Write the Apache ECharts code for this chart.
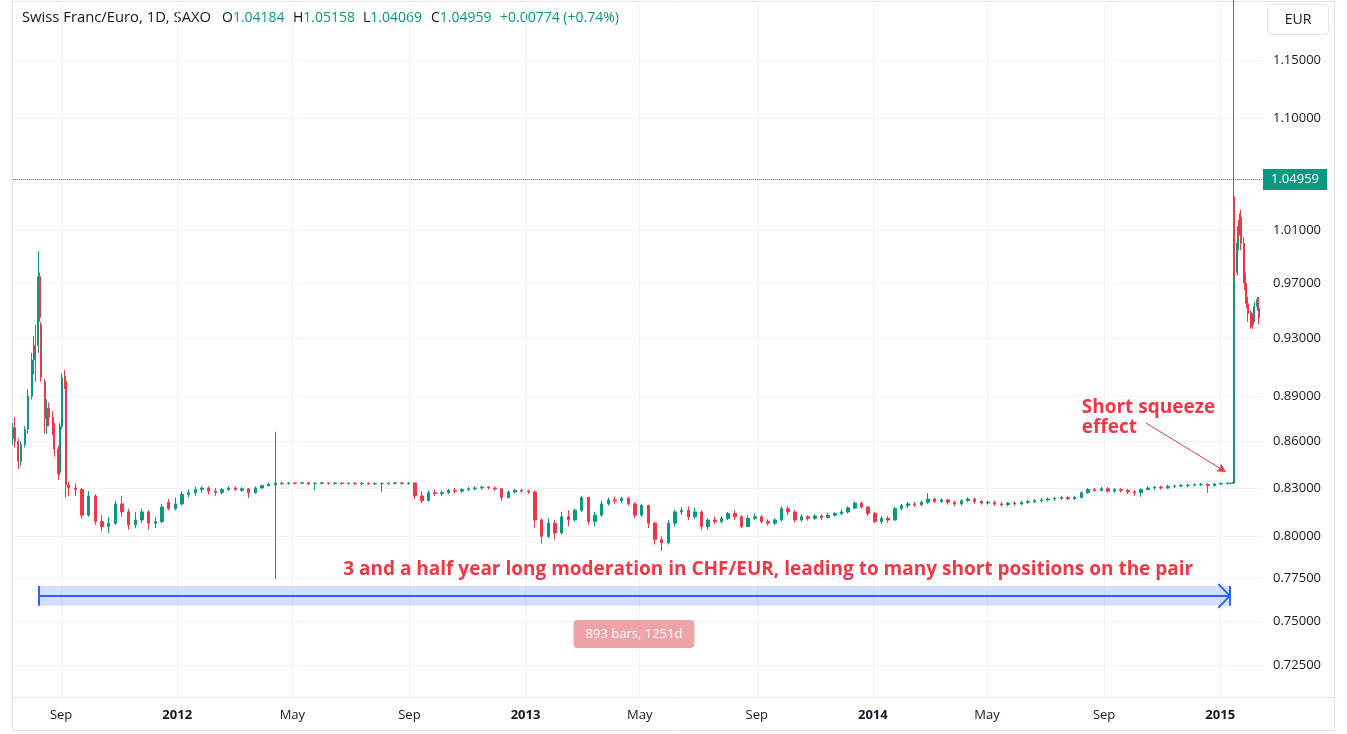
<!DOCTYPE html>
<html>
<head>
<meta charset="utf-8">
<title>Swiss Franc/Euro, 1D, SAXO</title>
<script src="https://cdn.jsdelivr.net/npm/echarts@6.0.0/dist/echarts.min.js"></script>
<style>
  html, body { margin: 0; padding: 0; background: #ffffff; }
  #chart { width: 1347px; height: 734px; }
</style>
</head>
<body>
<div id="chart"></div>
<script>
// prices are stored x 10000, rows are [open, close, low, high]

// summer 2011, one candle every couple of days
var dates2011 = ['2011-07-12', '2011-07-14', '2011-07-18', '2011-07-21', '2011-07-25', '2011-07-28',
  '2011-08-01', '2011-08-03', '2011-08-05', '2011-08-08', '2011-08-10', '2011-08-11', '2011-08-15',
  '2011-08-17', '2011-08-19', '2011-08-23', '2011-08-25', '2011-08-29', '2011-08-31', '2011-09-02',
  '2011-09-05', '2011-09-06'];
var ohlc2011 = [
  [8620, 8690, 8580, 8720], [8690, 8600, 8560, 8760], [8600, 8470, 8420, 8620], [8470, 8580, 8440, 8600],
  [8580, 8680, 8560, 8700], [8680, 8900, 8650, 8950], [8900, 9150, 8880, 9200], [9150, 9250, 9050, 9320],
  [9250, 9200, 9000, 9400], [9250, 9750, 9200, 9940], [9750, 9450, 9420, 9780], [9400, 9030, 9000, 9420],
  [9000, 8750, 8650, 9020], [8700, 8820, 8650, 8880], [8820, 8760, 8700, 8860], [8760, 8700, 8640, 8800],
  [8700, 8550, 8500, 8720], [8550, 8390, 8350, 8570], [8400, 8700, 8380, 8720], [8700, 9030, 8680, 9060],
  [9030, 9000, 8950, 9080], [9000, 8320, 8240, 9040]
];

// weekly candles after the floor, one row per Friday from the start date
var weekStart2011 = '2011-09-09';
var weekly2011 = [
  [8320, 8300, 8250, 8340], [8300, 8290, 8250, 8330], [8290, 8130, 8110, 8300], [8130, 8250, 8120, 8280],
  [8250, 8090, 8070, 8260], [8090, 8060, 8030, 8130], [8060, 8080, 8020, 8120], [8080, 8200, 8070, 8220],
  [8200, 8150, 8120, 8250], [8150, 8070, 8040, 8170], [8070, 8100, 8050, 8150], [8100, 8150, 8080, 8170],
  [8150, 8080, 8040, 8160], [8080, 8090, 8050, 8120], [8090, 8180, 8080, 8200], [8210, 8170, 8160, 8230],
  [8170, 8200, 8160, 8240]
];
var weekStart2012 = '2012-01-06';
var weekly2012 = [
  [8200, 8260, 8190, 8280], [8260, 8270, 8240, 8290], [8270, 8290, 8250, 8310], [8290, 8300, 8270, 8310],
  [8300, 8280, 8260, 8310], [8280, 8270, 8250, 8300], [8270, 8290, 8260, 8300], [8290, 8300, 8280, 8310],
  [8300, 8290, 8280, 8310], [8285, 8295, 8275, 8305], [8295, 8270, 8237, 8300], [8270, 8300, 8265, 8310],
  [8300, 8315, 8295, 8320], [8315, 8325, 8310, 8335], [8320, 8330, 7743, 8663], [8330, 8328, 8320, 8340],
  [8328, 8332, 8320, 8338], [8332, 8330, 8322, 8337], [8330, 8333, 8324, 8339], [8333, 8328, 8318, 8338],
  [8328, 8330, 8287, 8336], [8330, 8332, 8322, 8338], [8332, 8329, 8320, 8336], [8329, 8331, 8322, 8337],
  [8331, 8328, 8320, 8336], [8328, 8330, 8321, 8335], [8330, 8327, 8318, 8334], [8327, 8330, 8320, 8336],
  [8330, 8326, 8318, 8335], [8326, 8329, 8318, 8334], [8329, 8327, 8275, 8335], [8327, 8330, 8320, 8336],
  [8330, 8332, 8322, 8338], [8332, 8329, 8320, 8336], [8329, 8331, 8320, 8337], [8331, 8250, 8230, 8335],
  [8250, 8220, 8205, 8280], [8220, 8270, 8215, 8285], [8270, 8265, 8250, 8290], [8265, 8270, 8250, 8285],
  [8270, 8285, 8260, 8295], [8285, 8280, 8265, 8300], [8280, 8290, 8270, 8300], [8290, 8295, 8280, 8305],
  [8295, 8300, 8285, 8310], [8300, 8305, 8290, 8315], [8305, 8300, 8290, 8312], [8300, 8295, 8280, 8308],
  [8295, 8240, 8220, 8300], [8240, 8275, 8235, 8285], [8275, 8285, 8265, 8295], [8285, 8280, 8270, 8295]
];
var weekStart2013 = '2013-01-04';
var weekly2013 = [
  [8280, 8275, 8262, 8290], [8275, 8100, 8050, 8285], [8100, 8000, 7955, 8110], [8000, 8080, 7990, 8110],
  [8080, 8020, 7980, 8100], [8020, 8120, 8010, 8150], [8120, 8100, 8060, 8160], [8100, 8160, 8090, 8170],
  [8160, 8240, 8150, 8250], [8240, 8090, 8070, 8245], [8090, 8130, 8060, 8150], [8130, 8200, 8120, 8220],
  [8200, 8225, 8190, 8240], [8225, 8220, 8200, 8245], [8220, 8235, 8205, 8245], [8235, 8200, 8190, 8245],
  [8200, 8130, 8110, 8210], [8130, 8190, 8120, 8200], [8190, 8080, 8050, 8195], [8080, 7980, 7950, 8090],
  [7980, 7960, 7911, 8000], [7960, 8080, 7950, 8100], [8080, 8150, 8060, 8165], [8150, 8160, 8130, 8180],
  [8160, 8120, 8100, 8185], [8120, 8150, 8105, 8175], [8150, 8060, 8040, 8160], [8060, 8100, 8040, 8110],
  [8100, 8090, 8075, 8120], [8090, 8110, 8080, 8125], [8110, 8140, 8100, 8150], [8140, 8120, 8100, 8160],
  [8120, 8060, 8050, 8130], [8060, 8110, 8055, 8130], [8110, 8120, 8100, 8140], [8120, 8090, 8080, 8130],
  [8090, 8080, 8065, 8105], [8080, 8100, 8070, 8110], [8100, 8170, 8090, 8185], [8170, 8150, 8130, 8185],
  [8150, 8100, 8085, 8160], [8100, 8120, 8090, 8135], [8120, 8110, 8095, 8130], [8110, 8125, 8100, 8135],
  [8125, 8115, 8100, 8135], [8115, 8130, 8110, 8145], [8130, 8140, 8120, 8150], [8140, 8150, 8130, 8165],
  [8150, 8175, 8140, 8185], [8175, 8205, 8165, 8215], [8205, 8180, 8170, 8215], [8180, 8140, 8125, 8185]
];
var weekStart2014 = '2014-01-03';
var weekly2014 = [
  [8140, 8090, 8080, 8150], [8090, 8110, 8075, 8125], [8110, 8100, 8082, 8125], [8100, 8170, 8095, 8180],
  [8170, 8190, 8160, 8200], [8190, 8200, 8175, 8212], [8200, 8195, 8180, 8212], [8195, 8210, 8185, 8220],
  [8210, 8230, 8200, 8268], [8230, 8215, 8205, 8240], [8215, 8225, 8205, 8235], [8225, 8210, 8195, 8232],
  [8210, 8200, 8185, 8220], [8200, 8220, 8190, 8230], [8220, 8230, 8210, 8240], [8230, 8215, 8200, 8238],
  [8215, 8205, 8195, 8225], [8205, 8210, 8195, 8220], [8210, 8200, 8188, 8220], [8200, 8195, 8185, 8210],
  [8195, 8205, 8185, 8212], [8205, 8200, 8190, 8215], [8200, 8210, 8192, 8220], [8210, 8215, 8200, 8225],
  [8215, 8220, 8205, 8230], [8220, 8225, 8210, 8235], [8225, 8230, 8215, 8240], [8230, 8235, 8220, 8245],
  [8235, 8240, 8225, 8250], [8240, 8232, 8225, 8250], [8232, 8240, 8224, 8250], [8240, 8270, 8235, 8280],
  [8270, 8290, 8262, 8300], [8290, 8285, 8275, 8300], [8285, 8295, 8278, 8306], [8295, 8280, 8270, 8306],
  [8280, 8290, 8270, 8300], [8290, 8285, 8272, 8298], [8285, 8275, 8262, 8295], [8275, 8270, 8250, 8288],
  [8270, 8290, 8245, 8298], [8290, 8300, 8285, 8310], [8300, 8305, 8290, 8315], [8305, 8300, 8290, 8315],
  [8300, 8310, 8295, 8320], [8310, 8312, 8300, 8322], [8312, 8315, 8305, 8325], [8315, 8318, 8305, 8328],
  [8318, 8320, 8310, 8330], [8320, 8322, 8312, 8332], [8322, 8315, 8268, 8330], [8315, 8325, 8310, 8332],
  [8325, 8328, 8318, 8335], [8328, 8330, 8322, 8336]
];

// January 2015 removal of the floor, daily again
var dates2015 = ['2015-01-12', '2015-01-14', '2015-01-15', '2015-01-16', '2015-01-19', '2015-01-20',
  '2015-01-21', '2015-01-22', '2015-01-23', '2015-01-26', '2015-01-27', '2015-01-28', '2015-01-29',
  '2015-01-30', '2015-02-02', '2015-02-03', '2015-02-04', '2015-02-05', '2015-02-06', '2015-02-09',
  '2015-02-10', '2015-02-11'];
var ohlc2015 = [
  [8330, 8331, 8325, 8336], [8331, 8331, 8326, 8337], [8331, 10360, 8325, 12500], [10360, 9780, 9750, 10360],
  [9780, 10000, 9760, 10080], [10000, 10130, 9950, 10180], [10130, 10080, 10050, 10180], [10080, 10200, 10060, 10230],
  [10200, 10000, 9950, 10260], [10000, 9780, 9700, 10050], [9780, 9700, 9650, 9820], [9700, 9600, 9550, 9730],
  [9600, 9550, 9520, 9650], [9550, 9480, 9420, 9600], [9480, 9400, 9370, 9500], [9400, 9460, 9380, 9490],
  [9460, 9420, 9370, 9480], [9420, 9480, 9400, 9520], [9480, 9530, 9460, 9560], [9530, 9580, 9500, 9600],
  [9580, 9520, 9490, 9600], [9520, 9452, 9400, 9540]
];

// axis ticks
var priceTicks = [0.725, 0.75, 0.775, 0.8, 0.83, 0.86, 0.89, 0.93, 0.97, 1.01, 1.10, 1.15];
var dateTicks = ['2011-09-01', '2012-01-01', '2012-05-01', '2012-09-01', '2013-01-01', '2013-05-01',
  '2013-09-01', '2014-01-01', '2014-05-01', '2014-09-01', '2015-01-01'];
var monthNames = ['Jan', 'Feb', 'Mar', 'Apr', 'May', 'Jun', 'Jul', 'Aug', 'Sep', 'Oct', 'Nov', 'Dec'];

// header and price lines
var quote = { open: '1.04184', high: '1.05158', low: '1.04069', close: '1.04959', change: '+0.00774 (+0.74%)' };
var lastClose = 1.04959;
var lastVisible = 0.94522;

var upColor = '#089981';
var downColor = '#f23645';
var textColor = '#131722';
var noteColor = '#f23645';
var gridColor = '#f0f3fa';
var baseFont = '"Open Sans", Roboto, sans-serif';

function day(s) { return new Date(s + 'T00:00:00').getTime(); }
function toItem(t, r) { return [t, r[0] / 1e4, r[1] / 1e4, r[2] / 1e4, r[3] / 1e4]; }
function weeklyItems(start, rows) {
  var t0 = day(start);
  return rows.map(function (r, i) { return toItem(t0 + i * 7 * 864e5, r); });
}
function dailyItems(dates, rows) {
  return rows.map(function (r, i) { return toItem(day(dates[i]), r); });
}

var weeklyData = [].concat(
  weeklyItems(weekStart2011, weekly2011),
  weeklyItems(weekStart2012, weekly2012),
  weeklyItems(weekStart2013, weekly2013),
  weeklyItems(weekStart2014, weekly2014)
);
var dailyData = [].concat(dailyItems(dates2011, ohlc2011), dailyItems(dates2015, ohlc2015));
var dateTickValues = dateTicks.map(day);

// the x axis is a plain value axis holding timestamps
var xMin = new Date(2011, 6, 12, 10).getTime();
var xMax = xMin + 1312.5 * 864e5;

var candleStyle = {
  color: upColor, color0: downColor,
  borderColor: upColor, borderColor0: downColor,
  borderWidth: 1
};
var blueLine = { color: '#2962ff', width: 2, type: 'solid' };

function seg(d1, p1, d2, p2, style, endSymbol) {
  var to = { coord: [day(d2), p2] };
  if (endSymbol) { to.symbol = endSymbol; to.symbolSize = [7, 9]; }
  return [{ coord: [day(d1), p1], lineStyle: style, label: { show: false } }, to];
}

function quoteText(x, key, value) {
  return {
    type: 'text', silent: true, x: x, y: 18,
    style: {
      text: '{d|' + key + '}{g|' + value + '}', verticalAlign: 'middle', font: '14px ' + baseFont,
      rich: { d: { fill: textColor, font: '14px ' + baseFont }, g: { fill: upColor, font: '14px ' + baseFont } }
    }
  };
}

var chart = echarts.init(document.getElementById('chart'));

var option = {
  animation: false,
  backgroundColor: '#ffffff',
  grid: { left: 13, right: 85, top: 5, bottom: 37, containLabel: false, outerBoundsMode: 'none' },
  xAxis: {
    type: 'value',
    min: xMin,
    max: xMax,
    scale: true,
    axisLine: { show: false },
    axisTick: { show: false, customValues: dateTickValues },
    splitLine: { show: true, lineStyle: { color: gridColor, width: 1 } },
    axisLabel: {
      customValues: dateTickValues,
      margin: 12,
      color: textColor,
      fontSize: 13,
      fontFamily: baseFont,
      formatter: function (v) {
        var d = new Date(v);
        var m = d.getMonth();
        return m === 0 ? '{b|' + d.getFullYear() + '}' : monthNames[m];
      },
      rich: { b: { fontWeight: 'bold', fontSize: 13, color: textColor, fontFamily: baseFont } }
    }
  },
  yAxis: {
    type: 'log',
    logBase: 10,
    position: 'right',
    min: 0.7078,
    max: 1.1992,
    axisLine: { show: false },
    axisTick: { show: false, customValues: priceTicks },
    splitLine: { show: true, lineStyle: { color: gridColor, width: 1 } },
    axisLabel: {
      customValues: priceTicks,
      margin: 11,
      color: textColor,
      fontSize: 13,
      fontFamily: baseFont,
      formatter: function (v) { return Number(v).toFixed(5); }
    }
  },
  series: [
    {
      type: 'candlestick',
      name: 'weekly',
      data: weeklyData,
      encode: { x: 0, y: [1, 2, 3, 4] },
      barWidth: 3,
      itemStyle: candleStyle,
      clip: true,
      markArea: {
        silent: true,
        itemStyle: { color: 'rgba(41, 98, 255, 0.2)' },
        data: [[{ coord: [day('2011-08-09'), 0.7703] }, { coord: [day('2015-01-11'), 0.7587] }]]
      },
      markLine: {
        silent: true,
        symbol: ['none', 'none'],
        animation: false,
        data: [
          {
            yAxis: lastClose,
            lineStyle: { color: upColor, type: 'dotted', width: 1 },
            label: {
              show: true, position: 'end', distance: 1, formatter: quote.close,
              backgroundColor: upColor, color: '#ffffff', padding: [4, 8, 4, 8],
              fontSize: 13, fontFamily: baseFont
            }
          },
          {
            yAxis: lastVisible,
            lineStyle: { opacity: 0 },
            label: {
              show: true, position: 'end', distance: 1, formatter: String(lastVisible),
              backgroundColor: '#ffffff', borderColor: upColor, borderWidth: 1,
              color: upColor, padding: [3, 7, 3, 7], fontSize: 13, fontFamily: baseFont
            }
          },
          // measure line with its end bars and arrow head
          seg('2011-08-09', 0.7645, '2015-01-11', 0.7645, blueLine),
          seg('2011-08-09', 0.7703, '2011-08-09', 0.7587, blueLine),
          seg('2015-01-11', 0.7703, '2015-01-11', 0.7587, blueLine),
          seg('2014-12-30', 0.7715, '2015-01-11', 0.7645, blueLine),
          seg('2014-12-30', 0.7575, '2015-01-11', 0.7645, blueLine),
          // short squeeze pointer
          seg('2014-10-15', 0.8721, '2015-01-07', 0.8402, { color: noteColor, width: 1, type: 'solid' }, 'arrow')
        ]
      },
      markPoint: {
        silent: true,
        symbol: 'rect',
        symbolSize: 1,
        itemStyle: { color: 'rgba(0,0,0,0)' },
        data: [
          {
            coord: [day('2013-09-13'), 0.7797],
            label: {
              show: true, position: 'inside',
              formatter: '3 and a half year long moderation in CHF/EUR, leading to many short positions on the pair',
              color: noteColor, fontSize: 19, fontWeight: 'bold', fontFamily: '"Open Sans", sans-serif'
            }
          },
          {
            coord: [day('2014-08-08'), 0.8755],
            label: {
              show: true, position: 'right', distance: 0, align: 'left',
              formatter: 'Short squeeze\neffect', lineHeight: 20,
              color: noteColor, fontSize: 19, fontWeight: 'bold', fontFamily: '"Open Sans", sans-serif'
            }
          },
          {
            coord: [day('2013-04-25'), 0.7426],
            label: {
              show: true, position: 'inside', formatter: '893 bars, 1251d',
              backgroundColor: '#eea3a9', borderRadius: 4, padding: [7, 12, 7, 12], lineHeight: 14,
              color: '#ffffff', fontSize: 13, fontFamily: baseFont
            }
          }
        ]
      }
    },
    {
      type: 'candlestick',
      name: 'daily',
      data: dailyData,
      encode: { x: 0, y: [1, 2, 3, 4] },
      barWidth: 1.5,
      itemStyle: candleStyle,
      clip: true
    }
  ],
  graphic: [
    { type: 'rect', silent: true, z: 0, shape: { x: 12.5, y: 1.5, width: 1322, height: 729 },
      style: { fill: 'none', stroke: '#e0e3eb', lineWidth: 1 } },
    { type: 'line', silent: true, z: 0, shape: { x1: 12.5, y1: 697.5, x2: 1334.5, y2: 697.5 },
      style: { stroke: '#e0e3eb', lineWidth: 1 } },
    { type: 'text', silent: true, x: 22, y: 18,
      style: { text: 'Swiss Franc/Euro, 1D, SAXO', fill: textColor, font: '14.8px ' + baseFont, verticalAlign: 'middle' } },
    quoteText(222, 'O', quote.open),
    quoteText(293, 'H', quote.high),
    quoteText(363, 'L', quote.low),
    quoteText(431, 'C', quote.close),
    { type: 'text', silent: true, x: 500, y: 18,
      style: { text: quote.change, fill: upColor, font: '14px ' + baseFont, verticalAlign: 'middle' } },
    { type: 'rect', silent: true, shape: { x: 1267.5, y: 4.5, width: 61, height: 30, r: 4 },
      style: { fill: '#ffffff', stroke: '#e0e3eb', lineWidth: 1 } },
    { type: 'text', silent: true, x: 1298, y: 20,
      style: { text: 'EUR', fill: textColor, font: '14px ' + baseFont, align: 'center', verticalAlign: 'middle' } }
  ]
};

chart.setOption(option);
</script>
</body>
</html>
